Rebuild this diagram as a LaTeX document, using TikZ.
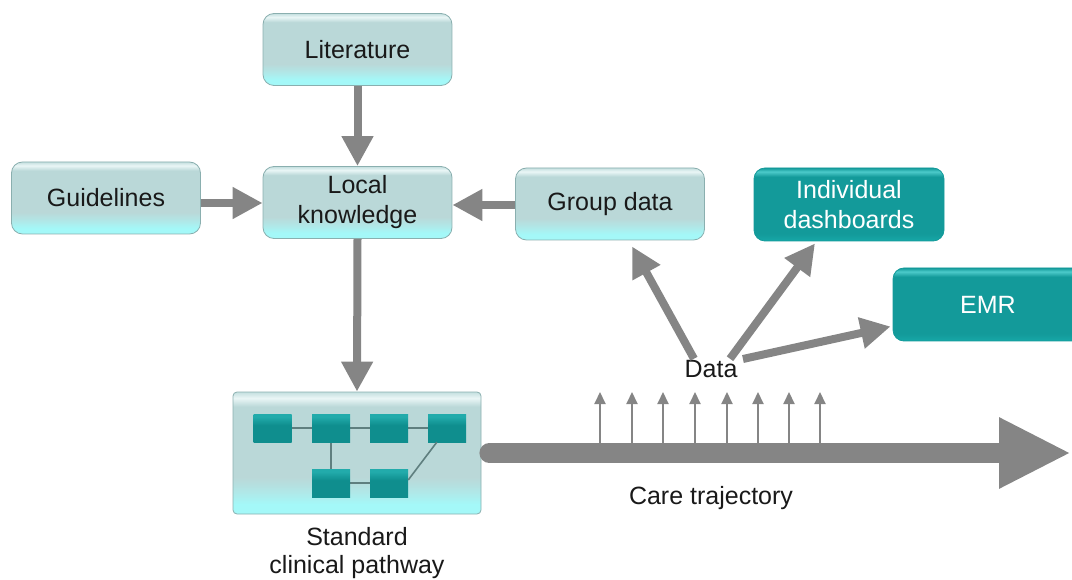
\documentclass[tikz,border=0pt]{standalone}
\usepackage{fontspec}
\setmainfont{Liberation Sans}
\usetikzlibrary{arrows.meta,calc}
\definecolor{glassbot}{HTML}{A4F8F8}
\definecolor{glasslow}{HTML}{B0E8E8}
\definecolor{glassmid}{HTML}{BAD8D8}
\definecolor{glasshi}{HTML}{EAF6F6}
\definecolor{glasstop}{HTML}{C4DFDF}
\definecolor{glassedge}{HTML}{8AAFAF}
\definecolor{tealbot}{HTML}{17A8A8}
\definecolor{tealmid}{HTML}{139A9A}
\definecolor{tealhi}{HTML}{4CCACA}
\definecolor{sqdark}{HTML}{0F8E8E}
\definecolor{sqlight}{HTML}{22ABAB}
\definecolor{arrowgray}{HTML}{858585}
\definecolor{linkgray}{HTML}{5F7F7F}
\pgfdeclareverticalshading{glass}{100bp}{color(0bp)=(glassbot); color(25bp)=(glassbot); color(29bp)=(glassbot); color(34bp)=(glasslow); color(40bp)=(glassmid); color(69bp)=(glassmid); color(72.5bp)=(glasshi); color(75bp)=(glasstop); color(100bp)=(glasstop)}
\pgfdeclareverticalshading{tealglass}{100bp}{color(0bp)=(tealbot); color(25bp)=(tealbot); color(30bp)=(tealmid); color(69bp)=(tealmid); color(72.5bp)=(tealhi); color(75bp)=(tealmid); color(100bp)=(tealmid)}
\pgfdeclareverticalshading{sqglass}{100bp}{color(0bp)=(sqdark); color(25bp)=(sqdark); color(55bp)=(sqdark); color(70bp)=(sqlight); color(75bp)=(sqlight); color(100bp)=(sqlight)}
\tikzset{
  lbox/.style={shape=rectangle, rounded corners=11pt, shading=glass, draw=glassedge, line width=0.8pt,
    minimum width=189pt, minimum height=72pt, align=center, text=black!90,
    font=\fontsize{25}{30}\selectfont},
  tbox/.style={shape=rectangle, rounded corners=11pt, shading=tealglass, draw=tealmid, line width=0.8pt,
    minimum width=190pt, minimum height=73pt, align=center, text=white,
    font=\fontsize{25}{30}\selectfont},
  pbox/.style={shape=rectangle, rounded corners=4pt, shading=glass, draw=glassedge, line width=0.8pt,
    minimum width=248pt, minimum height=122pt},
  sq/.style={shape=rectangle, shading=sqglass, draw=none, minimum width=38pt, minimum height=28pt, inner sep=0pt},
  link/.style={draw=linkgray, line width=1.6pt},
  bigarr/.style={draw=arrowgray, line width=8pt, -{Triangle[length=30pt,width=30pt]}},
  thinarr/.style={draw=arrowgray, line width=2pt, -{Triangle[length=12pt,width=11pt]}},
  lbl/.style={text=black!90, align=center, font=\fontsize{25}{28}\selectfont}
}
\begin{document}
\begin{tikzpicture}[x=1pt,y=-1pt]
\useasboundingbox (0,0) rectangle (1072,580);

% boxes
\node[lbox] (lit) at (357.5,49.5) {Literature};
\node[lbox] (guide) at (106,198) {Guidelines};
\node[lbox] (local) at (357.5,202.5) {Local\\knowledge};
\node[lbox] (grp) at (610,204) {Group data};
\node[tbox] (dash) at (849,204.5) {Individual\\dashboards};
\node[tbox] (emr) at (988,304.5) {EMR};

% pathway
\node[pbox] (path) at (357,453) {};
\draw[link] (272.5,428) -- (447,428);
\draw[link] (331,428) -- (331,483) -- (389,483);
\node[sq] (s1) at (272.5,428) {};
\node[sq] (s2) at (331,428) {};
\node[sq] (s3) at (389,428) {};
\node[sq] (s4) at (447,428) {};
\node[sq] (s5) at (331,483) {};
\node[sq] (s6) at (389,483) {};
\draw[link] ($(s6.east)+(0,-3)$) -- ($(s4.south west)+(9,0)$);

% labels
\node[lbl] (data) at (711,369) {Data};
\node[lbl] (care) at (711,498) {Care trajectory};
\node[lbl] (std) at (357,553) {Standard\\clinical pathway};

% arrows between boxes
\draw[bigarr] (lit.south) -- (local.north);
\draw[bigarr] (guide.east |- 0,203) -- (local.west |- 0,203);
\draw[bigarr] (grp.west |- 0,205) -- (local.east |- 0,205);
\draw[bigarr] (local.south) -- (path.north);

% data arrows
\draw[bigarr] ($(data.north)+(-17,2)$) -- ($(grp.south)+(22,6)$);
\draw[bigarr] ($(data.north)+(19,2)$) -- ($(dash.south)+(-34,2)$);
\draw[bigarr] ($(data.east)+(2,-10)$) -- ($(emr.west)+(-2,22)$);

% care trajectory arrow
\coordinate (tipend) at (1071,453);
\draw[draw=arrowgray, line width=20pt, line cap=round, -{Triangle[length=72pt,width=66pt]}]
  ($(path.east)+(8,0)$) -- (tipend);

% small upward arrows
\foreach \x [count=\i] in {600,632,663,695,727,758,789,820} {
  \coordinate (ua\i) at (\x,443);
  \coordinate (ub\i) at (\x,392);
  \draw[thinarr] (ua\i) -- (ub\i);
}
\end{tikzpicture}
\end{document}
